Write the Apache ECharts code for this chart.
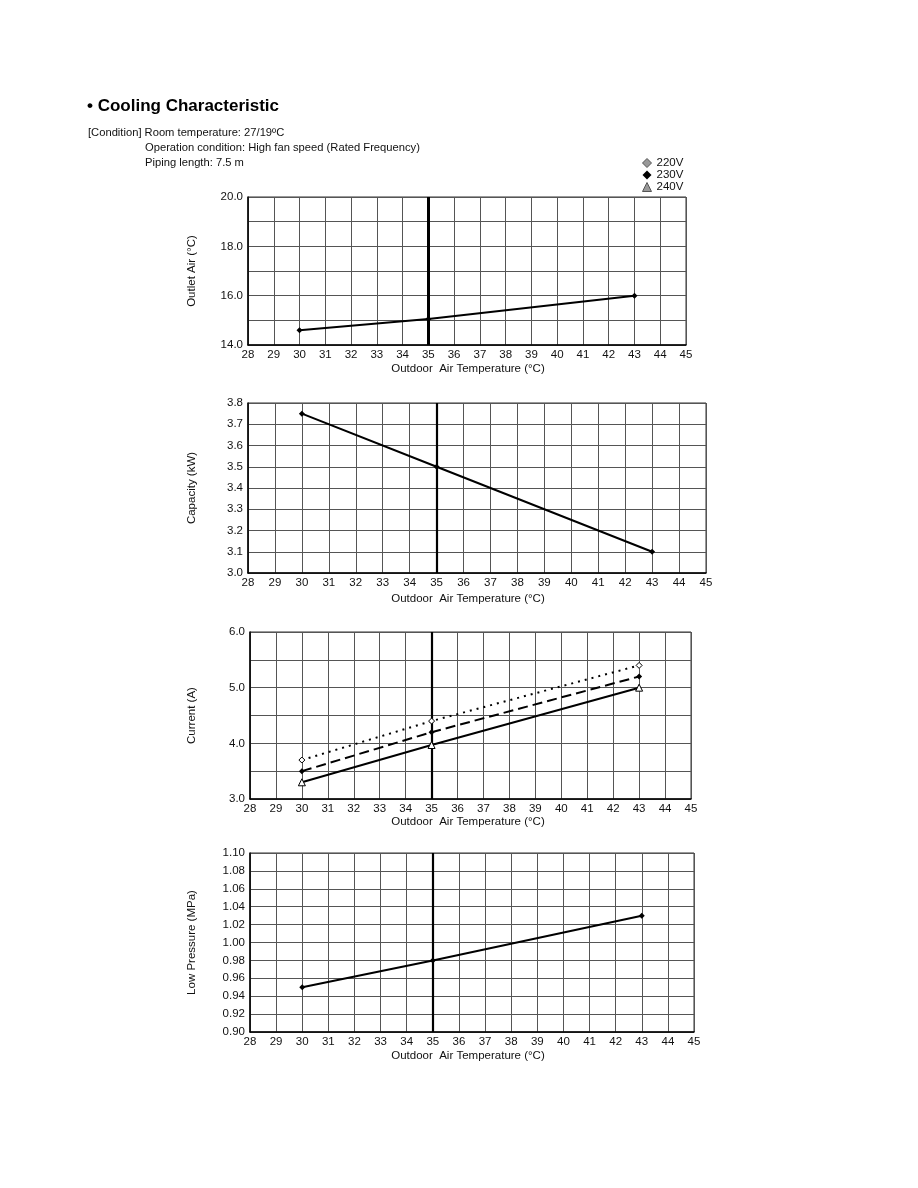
<!DOCTYPE html>
<html><head><meta charset="utf-8">
<script src="https://cdn.jsdelivr.net/npm/echarts@6/dist/echarts.min.js"></script>
<style>html,body{margin:0;padding:0;background:#fff}#c{width:918px;height:1188px}</style>
</head><body><div id="c"></div>
<script>
// ---- data ----
const xTicks = [28,29,30,31,32,33,34,35,36,37,38,39,40,41,42,43,44,45];
const tempPoints = [30, 35, 43];
const outletAir = [14.6, 15.05, 16.0];
const capacity = [3.75, 3.5, 3.1];
const current220 = [3.7, 4.4, 5.4];
const current230 = [3.5, 4.2, 5.2];
const current240 = [3.3, 3.97, 5.0];
const lowPressure = [0.95, 0.98, 1.03];
const legendNames = ['220V', '230V', '240V'];

const FONT = 'Liberation Sans, Arial, sans-serif';
const pairs = (ys) => tempPoints.map((x, i) => [x, ys[i]]);

const grids = [
  {left: 248, top: 197, width: 438, height: 148},
  {left: 248, top: 403, width: 458, height: 170},
  {left: 250, top: 632, width: 441, height: 167},
  {left: 250, top: 853, width: 444, height: 179}
];
const yDefs = [
  {name: 'Outlet Air (°C)', min: 14, max: 20, interval: 1, every: 2, dec: 1},
  {name: 'Capacity (kW)', min: 3.0, max: 3.8, interval: 0.1, every: 1, dec: 1},
  {name: 'Current (A)', min: 3.0, max: 6.0, interval: 0.5, every: 2, dec: 1},
  {name: 'Low Pressure (MPa)', min: 0.90, max: 1.10, interval: 0.02, every: 1, dec: 2}
];
const xNameGaps = [18, 20, 17, 18];
const NAME_CX = 468;

const xAxes = grids.map((g, i) => {
  const shift = (g.left + g.width / 2) - NAME_CX;
  return {
    gridIndex: i, type: 'value', min: xTicks[0], max: xTicks[xTicks.length-1], interval: 1,
    name: 'Outdoor  Air Temperature (°C)', nameLocation: 'middle', nameGap: xNameGaps[i],
    nameTextStyle: {fontFamily: FONT, fontSize: 11.5, color: '#111',
      padding: shift >= 0 ? [0, shift * 2, 0, 0] : [0, 0, 0, -shift * 2]},
    axisLine: {show: true, lineStyle: {color: '#000', width: 1.5}},
    axisTick: {show: false},
    axisLabel: {fontFamily: FONT, fontSize: 11.5, color: '#111', margin: 4, showMaxLabel: true, showMinLabel: true},
    splitLine: {show: true, lineStyle: {color: '#555', width: 1}}
  };
});
const yAxes = yDefs.map((d, i) => ({
  gridIndex: i, type: 'value', min: d.min, max: d.max, interval: d.interval,
  name: d.name, nameLocation: 'middle', nameGap: grids[i].left - 198, nameRotate: 90,
  nameTextStyle: {fontFamily: FONT, fontSize: 11.5, color: '#111'},
  axisLine: {show: true, lineStyle: {color: '#000', width: 1.5}},
  axisTick: {show: false},
  axisLabel: {fontFamily: FONT, fontSize: 11.5, color: '#111', margin: 5,
    formatter: (v) => {
      const k = Math.round((v - d.min) / d.interval);
      return k % d.every === 0 ? v.toFixed(d.dec) : '';
    }},
  splitLine: {show: true, lineStyle: {color: '#555', width: 1}}
}));

const mark35 = (w) => ({
  silent: true, symbol: 'none', label: {show: false},
  lineStyle: {color: '#000', width: w, type: 'solid'},
  data: [{xAxis: 35}]
});
const base = (i, name, ys, extra) => Object.assign({
  type: 'line', name, xAxisIndex: i, yAxisIndex: i, data: pairs(ys),
  symbol: 'diamond', symbolSize: 6, itemStyle: {color: '#000'},
  lineStyle: {color: '#000', width: 2}, animation: false, z: 5
}, extra || {});

const series = [
  base(0, 'Outlet', outletAir, {markLine: mark35(3)}),
  base(1, 'Capacity', capacity, {markLine: mark35(2.2)}),
  base(2, legendNames[0], current220, {symbol: 'diamond', symbolSize: 6,
    itemStyle: {color: '#fff', borderColor: '#000', borderWidth: 1},
    lineStyle: {color: '#000', width: 2, type: [2, 5]}, markLine: mark35(2.2)}),
  base(2, legendNames[1], current230, {symbol: 'diamond', symbolSize: 6,
    lineStyle: {color: '#000', width: 2, type: [10, 5]}}),
  base(2, legendNames[2], current240, {symbol: 'triangle', symbolSize: 7,
    itemStyle: {color: '#fff', borderColor: '#000', borderWidth: 1},
    lineStyle: {color: '#000', width: 2, type: 'solid'}}),
  base(3, 'LowPressure', lowPressure, {markLine: mark35(2.2)})
];

const chart = echarts.init(document.getElementById('c'), null, {renderer: 'canvas'});
chart.setOption({
  backgroundColor: '#fff',
  animation: false,
  grid: grids.map(g => Object.assign({show: true, borderColor: '#333', borderWidth: 1}, g)),
  xAxis: xAxes,
  yAxis: yAxes,
  series,
  legend: {
    orient: 'vertical', left: 637, top: 152, itemGap: 0, itemWidth: 9, itemHeight: 9,
    textStyle: {fontFamily: FONT, fontSize: 11.5, color: '#111', padding: [0, 0, 0, 0]},
    data: [
      {name: legendNames[0], icon: 'diamond', itemStyle: {color: '#999', borderColor: '#555', borderWidth: 1}},
      {name: legendNames[1], icon: 'diamond', itemStyle: {color: '#000'}},
      {name: legendNames[2], icon: 'triangle', itemStyle: {color: '#999', borderColor: '#555', borderWidth: 1}}
    ]
  },
  graphic: [
    {type: 'text', left: 87, top: 98, style: {text: '• Cooling Characteristic', fontFamily: FONT, fontSize: 17, fontWeight: 'bold', fill: '#000'}},
    {type: 'text', left: 88, top: 127, style: {text: '[Condition] Room temperature: 27/19ºC', fontFamily: FONT, fontSize: 11.2, fill: '#111'}},
    {type: 'text', left: 145, top: 142, style: {text: 'Operation condition: High fan speed (Rated Frequency)', fontFamily: FONT, fontSize: 11.2, fill: '#111'}},
    {type: 'text', left: 145, top: 157, style: {text: 'Piping length: 7.5 m', fontFamily: FONT, fontSize: 11.2, fill: '#111'}}
  ]
});
</script></body></html>
